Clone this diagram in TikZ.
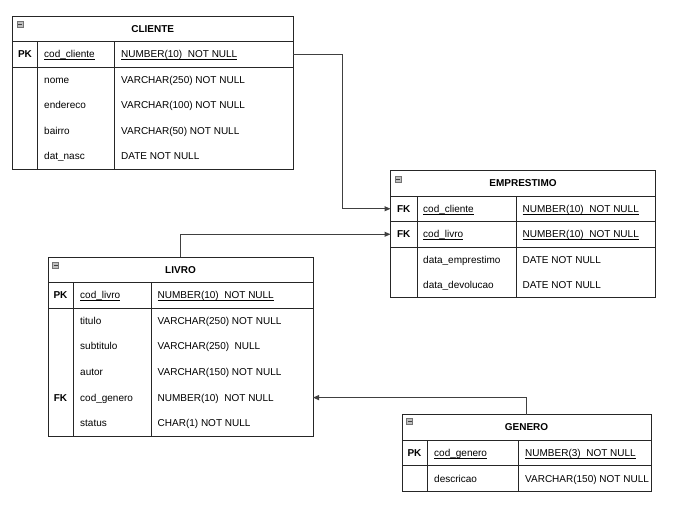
\documentclass[tikz,border=0pt]{standalone}
\usepackage{fontspec}
\setmainfont{Liberation Sans}
\usetikzlibrary{arrows.meta}

% sublinhado logo abaixo da linha de base, como no original
\newcommand\fldul[1]{\setbox0\hbox{#1}\rlap{\rule[-2.1pt]{\wd0}{0.8pt}}\box0}

\tikzset{
  tbl/.style={draw=black!85, line width=1pt, inner sep=0pt, outer sep=0pt},
  hdr/.style={tbl, minimum height=25.5pt, text height=7pt, text depth=0pt,
    font=\bfseries\fontsize{10}{12}\selectfont},
  keyrow/.style={tbl, minimum height=25.5pt},
  bodybox/.style={tbl},
  rowbox/.style={inner sep=0pt, outer sep=0pt, minimum height=25.5pt},
  keytxt/.style={inner sep=0pt, text height=7pt, text depth=0pt,
    font=\bfseries\fontsize{10}{12}\selectfont},
  fld/.style={anchor=west, inner sep=0pt, text height=7pt, text depth=0pt,
    font=\fontsize{10}{12}\selectfont},
  minbox/.style={draw=black!55, fill=black!25, line width=0.6pt},
  minbar/.style={draw=black!75, line width=0.9pt},
  fk/.style={draw=black!75, line width=1pt, -{Triangle[length=6pt,width=5pt]}}
}

\begin{document}
\begin{tikzpicture}[x=1pt, y=-1pt]
    \useasboundingbox (0,0) rectangle (673,523);

    % tabela CLIENTE
    \node[hdr, minimum width=280.5pt] (cliente) at (152.75,28.75) {CLIENTE};
    \node[keyrow, minimum width=280.5pt] (cliPK) at (152.75,54.25) {};
    \node[bodybox, minimum width=280.5pt, minimum height=102pt] (cliBody) at (152.75,118) {};
    \draw[tbl] (37.5,41.5) -- (37.5,169);
    \draw[tbl] (114,41.5) -- (114,169);
    \draw[minbox] (17,21.5) rectangle ++(6,6);
    \draw[minbar] (18,24.5) -- ++(4,0);
    \node[keytxt] (cliK1) at (25,54.25) {PK};
    \node[fld] (cliN1) at (44,54.25) {\fldul{cod\_cliente}};
    \node[fld] (cliT1) at (121,54.25) {\fldul{NUMBER(10)\ \ NOT NULL}};
    \node[fld] (cliN2) at (44,79.75) {nome};
    \node[fld] (cliT2) at (121,79.75) {VARCHAR(250) NOT NULL};
    \node[fld] (cliN3) at (44,105.25) {endereco};
    \node[fld] (cliT3) at (121,105.25) {VARCHAR(100) NOT NULL};
    \node[fld] (cliN4) at (44,130.75) {bairro};
    \node[fld] (cliT4) at (121,130.75) {VARCHAR(50) NOT NULL};
    \node[fld] (cliN5) at (44,156.25) {dat\_nasc};
    \node[fld] (cliT5) at (121,156.25) {DATE NOT NULL};

    % tabela EMPRESTIMO
    \node[hdr, minimum width=265pt] (emprestimo) at (523,183.25) {EMPRESTIMO};
    \node[keyrow, minimum width=265pt] (empCli) at (523,208.75) {};
    \node[keyrow, minimum width=265pt] (empLivro) at (523,234.25) {};
    \node[bodybox, minimum width=265pt, minimum height=50.5pt] (empBody) at (523,272.25) {};
    \draw[tbl] (417,196) -- (417,297.5);
    \draw[tbl] (516,196) -- (516,297.5);
    \draw[minbox] (395,176.5) rectangle ++(6,6);
    \draw[minbar] (396,179.5) -- ++(4,0);
    \node[keytxt] (empK1) at (403.75,208.75) {FK};
    \node[fld] (empN1) at (423,208.75) {\fldul{cod\_cliente}};
    \node[fld] (empT1) at (522.5,208.75) {\fldul{NUMBER(10)\ \ NOT NULL}};
    \node[keytxt] (empK2) at (403.75,234.25) {FK};
    \node[fld] (empN2) at (423,234.25) {\fldul{cod\_livro}};
    \node[fld] (empT2) at (522.5,234.25) {\fldul{NUMBER(10)\ \ NOT NULL}};
    \node[fld] (empN3) at (423,259.6) {data\_emprestimo};
    \node[fld] (empT3) at (522.5,259.6) {DATE NOT NULL};
    \node[fld] (empN4) at (423,284.9) {data\_devolucao};
    \node[fld] (empT4) at (522.5,284.9) {DATE NOT NULL};

    % tabela LIVRO
    \node[hdr, minimum width=265pt] (livro) at (180.5,269.75) {LIVRO};
    \node[keyrow, minimum width=265pt] (livPK) at (180.5,295.25) {};
    \node[bodybox, minimum width=265pt, minimum height=128pt] (livBody) at (180.5,372) {};
    \node[rowbox, minimum width=265pt] (livGen) at (180.5,397.6) {};
    \draw[tbl] (73,282.5) -- (73,436);
    \draw[tbl] (151,282.5) -- (151,436);
    \draw[minbox] (52.5,262.5) rectangle ++(6,6);
    \draw[minbar] (53.5,265.5) -- ++(4,0);
    \node[keytxt] (livK1) at (60.5,295.25) {PK};
    \node[fld] (livN1) at (80,295.25) {\fldul{cod\_livro}};
    \node[fld] (livT1) at (157.5,295.25) {\fldul{NUMBER(10)\ \ NOT NULL}};
    \node[fld] (livN2) at (80,320.8) {titulo};
    \node[fld] (livT2) at (157.5,320.8) {VARCHAR(250) NOT NULL};
    \node[fld] (livN3) at (80,346.4) {subtitulo};
    \node[fld] (livT3) at (157.5,346.4) {VARCHAR(250)\ \ NULL};
    \node[fld] (livN4) at (80,372) {autor};
    \node[fld] (livT4) at (157.5,372) {VARCHAR(150) NOT NULL};
    \node[keytxt] (livK5) at (60.5,397.6) {FK};
    \node[fld] (livN5) at (80,397.6) {cod\_genero};
    \node[fld] (livT5) at (157.5,397.6) {NUMBER(10)\ \ NOT NULL};
    \node[fld] (livN6) at (80,423.2) {status};
    \node[fld] (livT6) at (157.5,423.2) {CHAR(1) NOT NULL};

    % tabela GENERO
    \node[hdr, minimum width=249pt] (genero) at (526.5,427.25) {GENERO};
    \node[keyrow, minimum width=249pt] (genPK) at (526.5,452.75) {};
    \node[bodybox, minimum width=249pt, minimum height=26pt] (genBody) at (526.5,478.5) {};
    \draw[tbl] (427,440) -- (427,491.5);
    \draw[tbl] (518,440) -- (518,491.5);
    \draw[minbox] (406.5,418.5) rectangle ++(6,6);
    \draw[minbar] (407.5,421.5) -- ++(4,0);
    \node[keytxt] (genK1) at (414.5,452.75) {PK};
    \node[fld] (genN1) at (434,452.75) {\fldul{cod\_genero}};
    \node[fld] (genT1) at (525,452.75) {\fldul{NUMBER(3)\ \ NOT NULL}};
    \node[fld] (genN2) at (434,478.5) {descricao};
    \node[fld] (genT2) at (525,478.5) {VARCHAR(150) NOT NULL};

    % ligacoes entre as tabelas
    \draw[fk] (cliPK.east) -- ++(49,0) |- (empCli.west);
    \draw[fk] (livro.north) |- (empLivro.west);
    \draw[fk] (genero.north) |- (livGen.east);
\end{tikzpicture}
\end{document}
